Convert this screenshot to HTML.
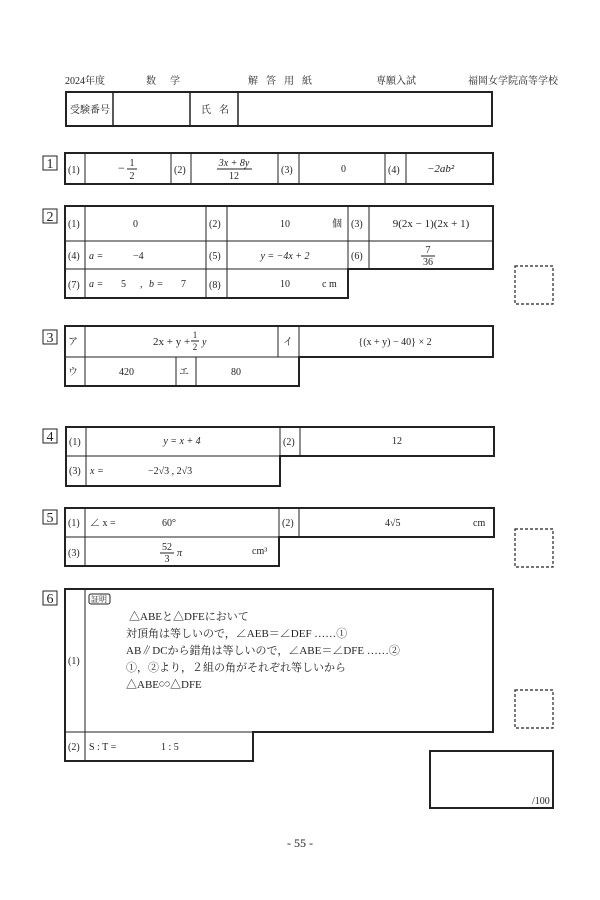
<!DOCTYPE html>
<html><head><meta charset="utf-8"><style>
body{margin:0;background:#fff;}
svg{display:block;font-family:"Liberation Serif","Noto Serif CJK SC",serif;}
text{fill:#222;}
</style></head><body>
<svg width="600" height="900" viewBox="0 0 600 900" xmlns="http://www.w3.org/2000/svg">
<g font-size="10">
<text x="65" y="84">2024年度</text>
<text x="146" y="84" letter-spacing="14">数学</text>
<text x="248" y="84" letter-spacing="8">解答用紙</text>
<text x="376" y="84">専願入試</text>
<text x="468" y="84">福岡女学院高等学校</text>
</g>
<g fill="none" stroke="#222">
<!-- header -->
<rect x="66" y="92" width="426" height="34" stroke-width="2"/>
<path d="M113 92V126M190 92V126M238 92V126" stroke-width="1.5"/>
<!-- numbers -->
<rect x="43" y="156" width="14" height="14"/>
<rect x="43" y="209" width="14" height="14"/>
<rect x="43" y="330" width="14" height="14"/>
<rect x="43" y="429" width="14" height="14"/>
<rect x="43" y="510" width="14" height="14"/>
<rect x="43" y="591" width="14" height="14"/>
<!-- Q1 -->
<rect x="65" y="153" width="428" height="31" stroke-width="2"/>
<path d="M85 153V184M171 153V184M191 153V184M278 153V184M299 153V184M385 153V184M406 153V184"/>
<!-- Q2 -->
<path d="M65 206H493V269H348V298H65Z" stroke-width="2"/>
<path d="M65 241H493M65 269H348M85 206V298M206 206V298M227 206V298M348 206V269M369 206V269"/>
<!-- Q3 -->
<path d="M65 326H493V357H299V386H65Z" stroke-width="2"/>
<path d="M65 357H299M85 326V386M278 326V357M299 326V357M176 357V386M196 357V386"/>
<!-- Q4 -->
<path d="M66 427H494V456H280V486H66Z" stroke-width="2"/>
<path d="M66 456H280M86 427V486M280 427V456M300 427V456"/>
<!-- Q5 -->
<path d="M65 508H494V537H279V566H65Z" stroke-width="2"/>
<path d="M65 537H279M85 508V566M279 508V537M299 508V537"/>
<!-- Q6 -->
<path d="M65 589H493V732H253V761H65Z" stroke-width="2"/>
<path d="M65 732H253M85 589V761"/>
<rect x="89" y="594" width="21" height="10" rx="2"/>
<!-- dashed -->
<g stroke-dasharray="3,2" stroke-width="1.2">
<rect x="515" y="266" width="38" height="38"/>
<rect x="515" y="529" width="38" height="38"/>
<rect x="515" y="690" width="38" height="38"/>
</g>
<rect x="430" y="751" width="123" height="57" stroke-width="2"/>
</g>
<g font-size="14" text-anchor="middle">
<text x="50" y="168">1</text><text x="50" y="221">2</text><text x="50" y="342">3</text>
<text x="50" y="441">4</text><text x="50" y="522">5</text><text x="50" y="603">6</text>
</g>
<g font-size="10">
<text x="70" y="113">受験番号</text>
<text x="201" y="113" letter-spacing="8">氏名</text>
<!-- Q1 -->
<text x="68" y="173">(1)</text><text x="174" y="173">(2)</text><text x="281" y="173">(3)</text><text x="388" y="173">(4)</text>
<text x="118" y="172" font-size="12">−</text>
<text x="132" y="166" text-anchor="middle">1</text><path d="M127 169H137" stroke="#222"/><text x="132" y="179" text-anchor="middle">2</text>
<text x="234" y="166" text-anchor="middle" font-style="italic">3x + 8y</text><path d="M217 169H252" stroke="#222"/><text x="234" y="179" text-anchor="middle">12</text>
<text x="341" y="172">0</text>
<text x="427" y="172" font-style="italic" font-size="11">−2ab²</text>
<!-- Q2 -->
<text x="68" y="227">(1)</text><text x="209" y="227">(2)</text><text x="351" y="227">(3)</text>
<text x="133" y="227">0</text><text x="280" y="227">10</text><text x="332" y="227">個</text>
<text x="431" y="227" text-anchor="middle" font-size="11">9(2x − 1)(2x + 1)</text>
<text x="68" y="259">(4)</text><text x="209" y="259">(5)</text><text x="351" y="259">(6)</text>
<text x="89" y="259" font-style="italic">a =</text><text x="133" y="259">−4</text>
<text x="285" y="259" text-anchor="middle" font-style="italic">y = −4x + 2</text>
<text x="428" y="253" text-anchor="middle">7</text><path d="M421 256H435" stroke="#222"/><text x="428" y="265" text-anchor="middle">36</text>
<text x="68" y="288">(7)</text><text x="209" y="288">(8)</text>
<text x="89" y="287" font-style="italic">a =</text><text x="121" y="287">5</text><text x="140" y="287">,</text><text x="149" y="287" font-style="italic">b =</text><text x="181" y="287">7</text>
<text x="280" y="287">10</text><text x="322" y="287">c m</text>
<!-- Q3 -->
<text x="68" y="345">ア</text><text x="283" y="345">イ</text>
<text x="153" y="345" font-size="11">2x + y +</text>
<text x="195" y="338" text-anchor="middle" font-size="9">1</text><path d="M191 341H199" stroke="#222"/><text x="195" y="350" text-anchor="middle" font-size="9">2</text>
<text x="202" y="345" font-style="italic">y</text>
<text x="395" y="345" text-anchor="middle">{(x + y) − 40} × 2</text>
<text x="68" y="375">ウ</text><text x="119" y="375">420</text><text x="179" y="375">エ</text><text x="231" y="375">80</text>
<!-- Q4 -->
<text x="69" y="445">(1)</text><text x="283" y="445">(2)</text>
<text x="182" y="444" text-anchor="middle" font-style="italic">y = x + 4</text>
<text x="392" y="444">12</text>
<text x="69" y="474">(3)</text><text x="90" y="474" font-style="italic">x =</text>
<text x="148" y="474">−2√3 , 2√3</text>
<!-- Q5 -->
<text x="68" y="526">(1)</text><text x="282" y="526">(2)</text>
<text x="90" y="526">∠ x =</text><text x="162" y="526">60°</text>
<text x="385" y="526">4√5</text><text x="473" y="526">cm</text>
<text x="68" y="556">(3)</text>
<text x="167" y="550" text-anchor="middle">52</text><path d="M160 553H174" stroke="#222"/><text x="167" y="562" text-anchor="middle">3</text>
<text x="177" y="556" font-style="italic">π</text>
<text x="252" y="554">cm³</text>
<!-- Q6 -->
<text x="91" y="602" font-size="8">証明</text>
<g font-size="11">
<text x="129" y="620">△ABEと△DFEにおいて</text>
<text x="126" y="637">対頂角は等しいので，∠AEB＝∠DEF ……①</text>
<text x="126" y="654">AB∥DCから錯角は等しいので，∠ABE＝∠DFE ……②</text>
<text x="126" y="671">①，②より，２組の角がそれぞれ等しいから</text>
<text x="126" y="688">△ABE∽△DFE</text>
</g>
<text x="68" y="664">(1)</text>
<text x="68" y="750">(2)</text><text x="89" y="750">S : T =</text><text x="161" y="750">1 : 5</text>
<text x="532" y="804">/100</text>
<text x="300" y="847" text-anchor="middle" font-size="12">- 55 -</text>
</g>
</svg>
</body></html>
